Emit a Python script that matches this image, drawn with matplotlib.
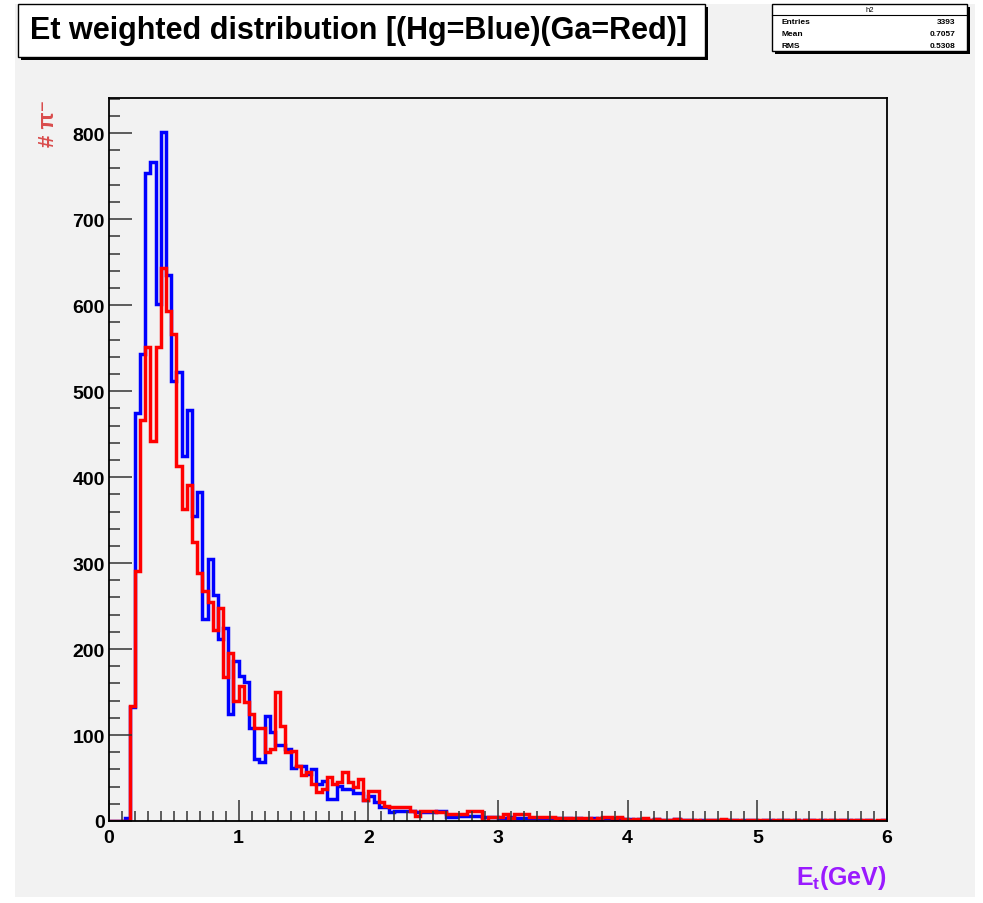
import matplotlib
matplotlib.use("Agg")
import matplotlib.pyplot as plt
import numpy as np
from matplotlib.patches import Rectangle
from matplotlib.ticker import MultipleLocator

# 150 bins of width 0.04 between 0 and 6
edges = np.linspace(0, 6, 151)

hg_counts = [
    0, 0, 0, 3, 133, 475, 543, 754, 766, 601,
    801, 635, 512, 522, 425, 478, 355, 383, 235, 305,
    263, 212, 225, 124, 186, 169, 162, 108, 72, 69,
    122, 103, 88, 88, 84, 62, 64, 64, 55, 60,
    43, 47, 26, 26, 41, 37, 37, 33, 33, 24,
    29, 22, 16, 16, 10, 12, 12, 12, 12, 10,
    10, 10, 10, 12, 12, 5, 5, 6, 6, 6,
    6, 6, 5, 5, 5, 4, 4, 5, 3, 4,
    4, 3, 4, 3, 3, 4, 3, 2, 3, 2,
    3, 2, 2, 3, 2, 3, 3, 2, 3, 2,
    2, 1, 2, 1, 1, 2, 1, 1, 1, 2,
    1, 1, 1, 0, 1, 1, 1, 1, 0, 1,
    1, 0, 1, 1, 1, 0, 1, 1, 0, 1,
    1, 0, 1, 0, 1, 1, 0, 1, 0, 1,
    0, 1, 1, 0, 1, 0, 1, 0, 0, 1,
]

ga_counts = [
    0, 0, 0, 0, 134, 291, 466, 551, 442, 551,
    643, 593, 567, 413, 363, 391, 325, 289, 268, 255,
    222, 248, 168, 196, 140, 157, 138, 125, 108, 108,
    80, 84, 150, 110, 80, 82, 64, 53, 57, 43,
    34, 37, 51, 43, 45, 57, 45, 40, 49, 24,
    35, 35, 22, 18, 16, 16, 16, 16, 12, 6,
    12, 12, 12, 10, 10, 8, 8, 8, 8, 12,
    12, 12, 0, 5, 5, 5, 8, 3, 8, 8,
    8, 5, 5, 5, 5, 5, 3, 3, 3, 3,
    3, 3, 3, 1, 4, 5, 5, 4, 5, 2,
    1, 2, 2, 3, 1, 2, 1, 1, 1, 2,
    1, 1, 1, 1, 0, 1, 1, 1, 2, 1,
    1, 1, 0, 1, 1, 1, 1, 0, 1, 1,
    1, 1, 1, 0, 1, 1, 1, 0, 1, 1,
    1, 1, 0, 1, 1, 1, 1, 0, 1, 1,
]

stats_labels = ["Entries", "Mean", "RMS"]
stats_values = ["3393", "0.7057", "0.5308"]

plt.rcParams["font.family"] = ["Liberation Sans", "DejaVu Sans"]
plt.rcParams["mathtext.fontset"] = "custom"
plt.rcParams["mathtext.rm"] = "Liberation Sans:bold"
plt.rcParams["mathtext.it"] = "Liberation Sans:bold"
plt.rcParams["mathtext.bf"] = "Liberation Sans:bold"

W, H = 983, 904
fig = plt.figure(figsize=(W / 100, H / 100), dpi=100)
fig.patch.set_facecolor("white")


def fx(px):
    return px / W


def fy(py):
    return 1 - py / H


def box(x0, y0, x1, y1, **kw):
    r = Rectangle((fx(x0), fy(y1)), fx(x1) - fx(x0), fy(y0) - fy(y1),
                  transform=fig.transFigure, **kw)
    fig.patches.append(r)
    return r


# grey canvas
box(15, 5, 975, 898, facecolor="#f2f2f2", edgecolor="none", zorder=-5)

ax = fig.add_axes([fx(109), fy(822), fx(887) - fx(109), fy(99) - fy(822)])
ax.set_facecolor("#f2f2f2")
ax.stairs(hg_counts, edges, color="#0000ff", lw=2.5, baseline=0)
ax.stairs(ga_counts, edges, color="#ff0000", lw=2.5, baseline=0)

ax.set_xlim(0, 6)
ax.set_ylim(0, 841)
ax.xaxis.set_major_locator(MultipleLocator(1))
ax.xaxis.set_minor_locator(MultipleLocator(0.1))
ax.yaxis.set_major_locator(MultipleLocator(100))
ax.yaxis.set_minor_locator(MultipleLocator(20))
ax.tick_params(which="both", direction="in", color="#333333", width=1.1,
               labelsize=14)
ax.tick_params(axis="y", which="major", length=16.5, pad=3)
ax.tick_params(axis="y", which="minor", length=8)
ax.tick_params(axis="x", which="major", length=15, pad=6)
ax.tick_params(axis="x", which="minor", length=7)
for lab in ax.get_xticklabels() + ax.get_yticklabels():
    lab.set_fontweight("bold")
for sp in ax.spines.values():
    sp.set_linewidth(1.3)

fig.text(fx(49), fy(100), "# π⁻", rotation=90, ha="center", va="top",
         color="#d94c4c", fontsize=16, fontweight="bold")
fig.text(fx(887), fy(892), r"$E_{t}$(GeV)", ha="right", va="bottom",
         color="#9a1aff", fontsize=18, fontweight="bold")

# title box with shadow
box(21, 8, 708, 61, facecolor="black", edgecolor="none", zorder=1)
box(18, 5, 705, 58, facecolor="white", edgecolor="black", lw=1, zorder=2)
fig.text(fx(359), fy(31), "Et weighted distribution [(Hg=Blue)(Ga=Red)]",
         ha="center", va="center", fontsize=22, fontweight="bold", zorder=3)

# stats box with shadow
box(775, 8, 970, 55, facecolor="black", edgecolor="none", zorder=1)
box(772, 5, 967, 52, facecolor="white", edgecolor="black", lw=1, zorder=2)
fig.add_artist(plt.Line2D([fx(772), fx(967)], [fy(16), fy(16)],
                          transform=fig.transFigure, color="black", lw=0.8,
                          zorder=3))
fig.text(fx(870), fy(11), "h2", ha="center", va="center", fontsize=5.5,
         zorder=3)
for k in range(len(stats_labels)):
    yy = fy(23 + 12 * k)
    fig.text(fx(781), yy, stats_labels[k], ha="left", va="center",
             fontsize=6, fontweight="bold", zorder=3)
    fig.text(fx(955), yy, stats_values[k], ha="right", va="center",
             fontsize=6, fontweight="bold", zorder=3)

fig.savefig("out.png", dpi=100, facecolor=fig.get_facecolor())
